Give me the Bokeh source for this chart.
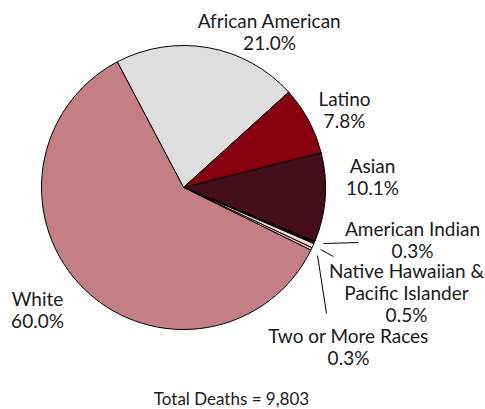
from bokeh.plotting import figure
from bokeh.models import Range1d, ColumnDataSource
from bokeh.embed import file_html
from bokeh.resources import INLINE
from bokeh.core.properties import value
import numpy as np

categories = ["African American", "Latino", "Asian", "American Indian",
              "Native Hawaiian & Pacific Islander", "Two or More Races", "White"]
percents = [21.0, 7.8, 10.1, 0.3, 0.5, 0.3, 60.0]
colors = ["#dedede", "#870010", "#440f1a", "#1a0a0c", "#f2d8da", "#e9c3c6", "#c47f86"]
label_lines = [["African American", "21.0%"], ["Latino", "7.8%"], ["Asian", "10.1%"],
               ["American Indian", "0.3%"],
               ["Native Hawaiian &", "Pacific Islander", "0.5%"],
               ["Two or More Races", "0.3%"], ["White", "60.0%"]]
total_text = "Total Deaths = 9,803"

W, H = 485, 409
cx, cy, r = 183, H - 187, 142
start_deg = 117.8

frac = np.array(percents) / sum(percents)
cum = np.concatenate([[0], np.cumsum(frac)])
begin = np.deg2rad(start_deg) - cum[:-1] * 2 * np.pi
end = np.deg2rad(start_deg) - cum[1:] * 2 * np.pi

p = figure(width=W, height=H, x_range=Range1d(0, W), y_range=Range1d(0, H),
           output_backend="svg", toolbar_location=None, min_border=0)
p.axis.visible = False
p.grid.visible = False
p.outline_line_color = None
p.background_fill_color = "white"

src = ColumnDataSource(dict(start=end, end=begin, color=colors))
p.wedge(x=cx, y=cy, radius=r, start_angle="start", end_angle="end",
        direction="anticlock", fill_color="color", line_color="black",
        line_width=1, source=src)

# label anchor (center x, first line y from top), line spacing
lx = [269, 344, 372, 412, 406, 348, 37]
ly = [20, 98, 165, 228, 270, 335, 298]
spacing = 22
tx, ty, tt = [], [], []
for x0, y0, lines in zip(lx, ly, label_lines):
    for i, t in enumerate(lines):
        tx.append(x0)
        ty.append(H - (y0 + i * spacing))
        tt.append(t)
p.text(x=tx, y=ty, text=tt, text_align="center",
       text_baseline="middle", text_font=value("Lato"), text_font_size="19px",
       text_color="#1a1a1a")

# leader lines
p.segment(x0=[323, 320, 317], y0=[H - 243, H - 249, H - 255],
          x1=[358, 333, 326], y1=[H - 242, H - 256, H - 313],
          line_color="black", line_width=1)

p.text(x=[231], y=[H - 398], text=[total_text], text_align="center",
       text_baseline="middle", text_font=value("Lato"), text_font_size="17px",
       text_color="#1a1a1a")

open("out.html", "w").write(file_html(p, INLINE))
